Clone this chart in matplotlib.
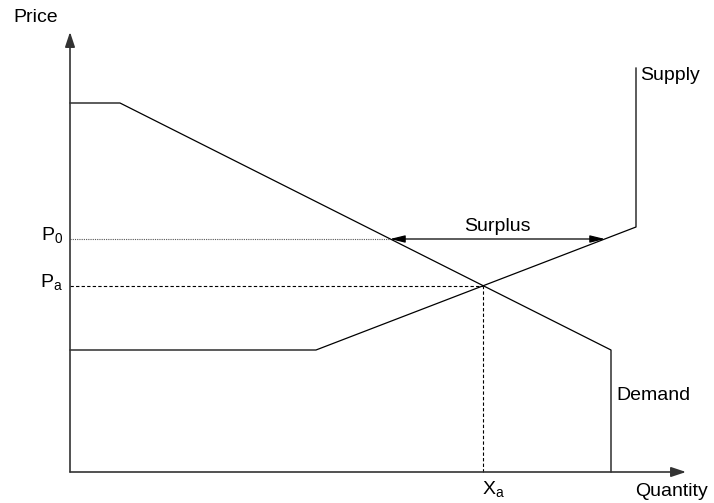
import matplotlib
matplotlib.use("Agg")
import matplotlib.pyplot as plt

plt.rcParams["font.family"] = ["Liberation Sans", "DejaVu Sans"]
plt.rcParams["mathtext.fontset"] = "custom"
plt.rcParams["mathtext.rm"] = "Liberation Sans"

# curve data (quantity, price)
demand_q = [0, 50, 541, 541]
demand_p = [369, 369, 122, 0]
supply_q = [0, 246, 566, 566]
supply_p = [122, 122, 245, 404]

P0 = 233
Pa = 186
Xa = 413
surplus_q = [320, 535]

fig = plt.figure(figsize=(7.14, 5.03), dpi=100)
ax = fig.add_axes([0, 0, 1, 1])
ax.set_xlim(-70, 644)
ax.set_ylim(-31, 472)
ax.axis("off")

LW = 0.9
FS = 14
# axes with arrows
ax.annotate("", xy=(0, 440), xytext=(0, 0),
            arrowprops=dict(arrowstyle="-|>,head_length=0.9,head_width=0.3", color="#333333", lw=1.2,
                            shrinkA=0, shrinkB=0))
ax.annotate("", xy=(616, 0), xytext=(0, 0),
            arrowprops=dict(arrowstyle="-|>,head_length=0.9,head_width=0.3", color="#333333", lw=1.2,
                            shrinkA=0, shrinkB=0))

ax.plot(demand_q, demand_p, color="black", lw=LW)
ax.plot(supply_q, supply_p, color="black", lw=LW)

# guide lines
ax.plot([0, surplus_q[0]], [P0, P0], color="#555555", lw=0.8, linestyle=(0, (1, 1)))
ax.plot([0, Xa], [Pa, Pa], color="black", lw=0.8, linestyle=(0, (3, 2)))
ax.plot([Xa, Xa], [0, Pa], color="black", lw=0.8, linestyle=(0, (3, 2)))

# surplus arrow
ax.annotate("", xy=(surplus_q[0], P0), xytext=(surplus_q[1], P0),
            arrowprops=dict(arrowstyle="<|-|>,head_length=0.9,head_width=0.22", color="black", lw=LW,
                            shrinkA=0, shrinkB=0))
ax.text((surplus_q[0] + surplus_q[1]) / 2, 246, "Surplus", fontsize=FS, ha="center", va="center")

# labels
ax.text(-57, 455, "Price", fontsize=FS, ha="left", va="center")
ax.text(570, 397, "Supply", fontsize=FS, ha="left", va="center")
ax.text(546, 77, "Demand", fontsize=FS, ha="left", va="center")
ax.text(-7, P0 + 3, "P$_\\mathrm{0}$", fontsize=FS, ha="right", va="center")
ax.text(-7, Pa + 3, "P$_\\mathrm{a}$", fontsize=FS, ha="right", va="center")
ax.text(412, -18, "X$_\\mathrm{a}$", fontsize=FS, ha="left", va="center")
ax.text(565, -20, "Quantity", fontsize=FS, ha="left", va="center")

fig.savefig("out.png", dpi=100, facecolor="white")
